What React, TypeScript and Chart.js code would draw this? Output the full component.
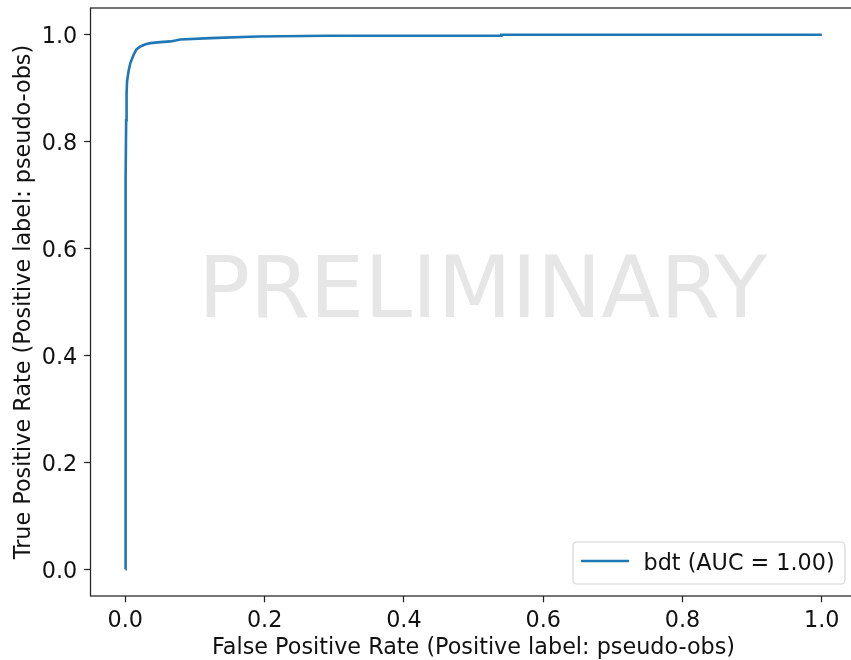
import { useEffect, useRef } from "react";
import { Chart, registerables } from "chart.js";

Chart.register(...registerables);

// ROC curve of the bdt classifier (pseudo-obs as the positive label)
const fpr = [0, 0, 0.0008, 0.0012, 0.0018, 0.0025, 0.0047, 0.0072, 0.012, 0.016, 0.0216, 0.029, 0.036, 0.05, 0.065, 0.079, 0.122, 0.19, 0.29, 0.54, 0.54, 1.0];
const tpr = [0, 0.5, 0.73, 0.84, 0.89, 0.913, 0.932, 0.947, 0.963, 0.9725, 0.978, 0.982, 0.9843, 0.9862, 0.9875, 0.991, 0.9937, 0.9968, 0.998, 0.998, 1.0, 1.0];

const xTickValues = [0, 0.2, 0.4, 0.6, 0.8, 1.0];
const yTickValues = [0, 0.2, 0.4, 0.6, 0.8, 1.0];

const seriesLabel = "bdt (AUC = 1.00)";
const xTitle = "False Positive Rate (Positive label: pseudo-obs)";
const yTitle = "True Positive Rate (Positive label: pseudo-obs)";
const watermarkText = "PRELIMINARY";

const FONT = '"DejaVu Sans", "Liberation Sans", sans-serif';
const FS = 22.3;
const LINE_BLUE = "#1f77b4";
const INK = "#111111";

const watermarkPlugin = {
  id: "watermark",
  beforeDatasetsDraw(chart: any) {
    const { ctx, chartArea } = chart;
    ctx.save();
    ctx.font = `86px ${FONT}`;
    ctx.fillStyle = "#e6e6e6";
    ctx.textAlign = "center";
    ctx.textBaseline = "alphabetic";
    const cx = (chartArea.left + chartArea.right) / 2 + 9;
    const by = chart.scales.y.getPixelForValue(0.4726);
    ctx.fillText(watermarkText, cx, by);
    ctx.restore();
  },
};

const framePlugin = {
  id: "frame",
  afterDatasetsDraw(chart: any) {
    const { ctx, chartArea } = chart;
    ctx.save();
    ctx.strokeStyle = "#222222";
    ctx.lineWidth = 1.25;
    ctx.strokeRect(chartArea.left, chartArea.top, chartArea.right - chartArea.left, chartArea.bottom - chartArea.top);
    ctx.restore();
  },
};

const legendPlugin = {
  id: "boxLegend",
  afterDraw(chart: any) {
    const { ctx, chartArea } = chart;
    const right = chartArea.right - 11.6;
    const bottom = chartArea.bottom - 12;
    const w = 272;
    const h = 42;
    const left = right - w;
    const top = bottom - h;
    ctx.save();
    const r = 4;
    ctx.beginPath();
    ctx.moveTo(left + r, top);
    ctx.lineTo(right - r, top);
    ctx.arcTo(right, top, right, top + r, r);
    ctx.lineTo(right, bottom - r);
    ctx.arcTo(right, bottom, right - r, bottom, r);
    ctx.lineTo(left + r, bottom);
    ctx.arcTo(left, bottom, left, bottom - r, r);
    ctx.lineTo(left, top + r);
    ctx.arcTo(left, top, left + r, top, r);
    ctx.closePath();
    ctx.fillStyle = "rgba(255,255,255,0.8)";
    ctx.fill();
    ctx.strokeStyle = "#d6d6d6";
    ctx.lineWidth = 1.2;
    ctx.stroke();
    // handle line
    const ly = top + 19;
    ctx.beginPath();
    ctx.moveTo(left + 8, ly);
    ctx.lineTo(left + 56, ly);
    ctx.strokeStyle = LINE_BLUE;
    ctx.lineWidth = 2.6;
    ctx.stroke();
    // label
    ctx.font = `${FS}px ${FONT}`;
    ctx.fillStyle = INK;
    ctx.textAlign = "left";
    ctx.textBaseline = "alphabetic";
    ctx.fillText(seriesLabel, left + 70.5, top + 27.5);
    ctx.restore();
  },
};

export default function App() {
  const canvasRef = useRef<HTMLCanvasElement | null>(null);

  useEffect(() => {
    const canvas = canvasRef.current;
    if (!canvas) return;
    const points = fpr.map((x, i) => ({ x, y: tpr[i] }));
    const tickFont = { family: FONT, size: FS, lineHeight: 1.2 };
    const chart = new Chart(canvas, {
      type: "line",
      data: {
        datasets: [
          {
            label: seriesLabel,
            data: points,
            borderColor: LINE_BLUE,
            backgroundColor: LINE_BLUE,
            borderWidth: 2.6,
            pointRadius: 0,
            tension: 0,
            fill: false,
          },
        ],
      },
      options: {
        animation: false,
        responsive: false,
        maintainAspectRatio: false,
        layout: { padding: { top: 8, right: 13.4, bottom: 0, left: 0 } },
        plugins: {
          legend: { display: false },
          tooltip: { enabled: false },
        },
        scales: {
          x: {
            type: "linear",
            min: -0.05,
            max: 1.05,
            afterBuildTicks: (scale: any) => {
              scale.ticks = xTickValues.map((v) => ({ value: v }));
            },
            afterFit: (scale: any) => {
              scale.height = 64;
              scale.paddingLeft = 0;
              scale.paddingRight = 0;
              scale.paddingTop = 0;
              scale.paddingBottom = 0;
            },
            ticks: {
              font: tickFont,
              color: INK,
              padding: 5.4,
              maxRotation: 0,
              callback: (v: any) => Number(v).toFixed(1),
            },
            grid: {
              display: true,
              drawOnChartArea: false,
              drawTicks: true,
              tickLength: 6.3,
              tickWidth: 1.25,
              tickColor: "#222222",
            },
            border: { display: false },
            title: {
              display: true,
              text: xTitle,
              font: { family: FONT, size: FS, lineHeight: 1 },
              color: INK,
              padding: { top: 0, bottom: 0.4 },
            },
          },
          y: {
            type: "linear",
            min: -0.05,
            max: 1.05,
            afterBuildTicks: (scale: any) => {
              scale.ticks = yTickValues.map((v) => ({ value: v }));
            },
            afterFit: (scale: any) => {
              scale.width = 90.5;
              scale.paddingLeft = 0;
              scale.paddingRight = 0;
              scale.paddingTop = 0;
              scale.paddingBottom = 0;
            },
            ticks: {
              font: tickFont,
              color: INK,
              padding: 7.0,
              labelOffset: 2.5,
              callback: (v: any) => Number(v).toFixed(1),
            },
            grid: {
              display: true,
              drawOnChartArea: false,
              drawTicks: true,
              tickLength: 6.3,
              tickWidth: 1.25,
              tickColor: "#222222",
            },
            border: { display: false },
            title: {
              display: true,
              text: yTitle,
              font: { family: FONT, size: FS, lineHeight: 1 },
              color: INK,
              padding: { top: 12.6, bottom: 0 },
            },
          },
        },
      },
      plugins: [watermarkPlugin, framePlugin, legendPlugin],
    });
    return () => chart.destroy();
  }, []);

  return (
    <div
      style={{
        position: "fixed",
        left: 0,
        top: 0,
        width: 851,
        height: 660,
        overflow: "hidden",
        background: "#ffffff",
      }}
    >
      <canvas ref={canvasRef} width={870} height={660} style={{ width: 870, height: 660, display: "block" }} />
    </div>
  );
}
